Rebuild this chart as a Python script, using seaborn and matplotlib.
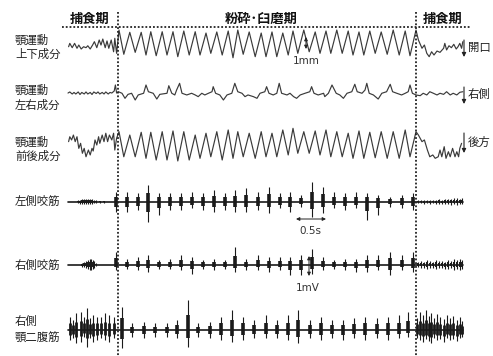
import numpy as np
import matplotlib
matplotlib.use("Agg")
import matplotlib.pyplot as plt
import seaborn as sns

# ── DATA ──────────────────────────────────────────────────────────────────────
# time in s, jaw movement in mm, EMG in mV (all read off the recording)
trace_span = [0.0, 6.58]

# chewing cycles (粉砕・臼磨期): cycle peak / trough times shared by the jaw traces
cycle_peak_t = [0.85, 1.03, 1.22, 1.38, 1.57, 1.75, 1.93, 2.12, 2.30, 2.48, 2.67, 2.83, 3.02, 3.22,
                3.40, 3.58, 3.75, 3.93, 4.12, 4.30, 4.48, 4.67, 4.85, 5.03, 5.22, 5.42, 5.62, 5.80]
cycle_trough_t = [0.93, 1.12, 1.30, 1.47, 1.65, 1.83, 2.02, 2.20, 2.38, 2.57, 2.75, 2.92, 3.12, 3.30,
                  3.48, 3.67, 3.83, 4.02, 4.20, 4.38, 4.57, 4.75, 4.93, 5.12, 5.32, 5.52, 5.70]

# 顎運動 上下成分
vert_pre_t = [0.01, 0.03, 0.07, 0.11, 0.15, 0.18, 0.22, 0.26, 0.30, 0.33, 0.37, 0.41,
              0.44, 0.48, 0.52, 0.55, 0.58, 0.62, 0.65, 0.68, 0.72, 0.76, 0.78, 0.81]
vert_pre_v = [-0.31, -0.03, -0.39, -0.03, -0.44, -0.17, -0.50, -0.31, -0.39, -0.23, -0.50, -0.17,
              0.11, -0.39, 0.25, -0.17, 0.33, -0.39, 0.17, -0.44, 0.25, -0.73, 0.39, -0.86]
vert_peak_v = [1.08, 0.89, 0.89, 0.94, 0.94, 0.94, 1.00, 0.94, 0.83, 0.92, 1.00, 1.08, 0.92, 0.83,
               0.92, 0.83, 1.00, 1.08, 0.92, 1.00, 1.08, 1.00, 0.92, 1.00, 0.92, 1.08, 1.00, 1.08]
vert_trough_v = [-0.94, -0.78, -1.00, -1.06, -1.00, -1.14, -1.00, -1.00, -0.86, -1.00, -1.23, -0.94,
                 -1.14, -1.14, -1.14, -1.00, -0.86, -0.73, -0.86, -0.86, -0.86, -1.00, -1.00, -0.86,
                 -0.94, -1.00, -1.06]
vert_post_t = [5.84, 5.90, 5.94, 5.98, 6.02, 6.06, 6.10, 6.15, 6.20, 6.26,
               6.28, 6.31, 6.35, 6.39, 6.43, 6.47, 6.50, 6.53, 6.56, 6.58]
vert_post_v = [0.25, -0.44, -0.17, -0.86, -1.14, -0.73, -1.00, -0.67, -0.78, -0.44,
               -0.03, -0.58, -0.23, -0.39, -0.11, -0.50, -0.31, -0.03, -0.44, 0.11]

# 顎運動 左右成分 (whole record)
lat_t = [0.00, 0.03, 0.07, 0.10, 0.13, 0.17, 0.20, 0.23, 0.27, 0.30, 0.33, 0.37, 0.40, 0.43,
         0.47, 0.50, 0.53, 0.57, 0.60, 0.63, 0.67, 0.70, 0.73, 0.77, 0.79, 0.81,
         0.84, 0.90, 0.95, 1.00, 1.06, 1.12, 1.17, 1.26, 1.30, 1.34, 1.42, 1.48, 1.53, 1.65,
         1.68, 1.73, 1.78, 1.81, 1.86, 1.90, 1.98, 2.06,
         2.12, 2.17, 2.23, 2.28, 2.34, 2.40, 2.42, 2.46, 2.53, 2.59, 2.65, 2.73, 2.78, 2.83,
         2.90, 2.95, 3.00, 3.09, 3.15, 3.20, 3.28, 3.31, 3.35, 3.42, 3.48, 3.52, 3.56, 3.65,
         3.70, 3.76, 3.81, 3.87, 3.95, 4.03, 4.06, 4.10, 4.17, 4.26, 4.28, 4.34, 4.40,
         4.47, 4.53, 4.59, 4.65, 4.73, 4.78, 4.82, 4.90, 4.95, 4.98, 5.02, 5.09, 5.17, 5.23,
         5.31, 5.37, 5.41, 5.48, 5.56, 5.62, 5.67, 5.70, 5.74, 5.80,
         5.87, 5.92, 5.98, 6.03, 6.09, 6.15, 6.20, 6.26, 6.31, 6.37, 6.42, 6.48, 6.53, 6.58]
lat_v = [0.08, 0.17, 0.00, 0.13, 0.00, 0.17, -0.04, 0.13, 0.00, 0.17, 0.00, 0.13, -0.04, 0.17,
         0.04, 0.17, 0.00, 0.13, 0.00, 0.17, 0.00, 0.13, 0.08, 0.25, 0.75, 0.08,
         0.19, 0.06, -0.36, -0.03, 0.06, -0.50, -0.08, 0.06, 0.75, 0.19, 0.06, -0.42, -0.03, 0.06,
         0.69, 0.06, -0.08, 0.33, 0.89, 0.06, -0.08, 0.06,
         -0.08, -0.22, 0.06, -0.08, 0.06, 0.19, 0.61, 0.06, -0.08, -0.50, -0.08, 0.06, 0.89, 0.19,
         0.06, -0.22, -0.08, -0.22, -0.36, 0.06, 0.19, 0.61, 0.06, -0.08, 0.06, 0.89, 0.06, -0.08,
         0.06, -0.22, -0.36, -0.08, 0.06, 0.19, 0.61, 0.06, -0.08, 0.06, -0.22, 0.06, 0.75,
         0.06, -0.08, -0.36, 0.06, 0.19, 0.81, 0.19, 0.06, 0.33, 0.89, 0.06, -0.08, -0.42, 0.06,
         0.19, 0.81, 0.19, 0.06, -0.08, 0.06, 0.19, 0.75, 0.06, -0.08,
         -0.14, 0.06, -0.08, 0.19, 0.06, -0.08, 0.06, -0.03, 0.19, -0.08, 0.06, -0.08, 0.14, 0.19]

# 顎運動 前後成分
ap_pre_t = [0.01, 0.03, 0.06, 0.09, 0.12, 0.15, 0.18, 0.21, 0.24, 0.27, 0.30, 0.34, 0.37, 0.40,
            0.42, 0.45, 0.48, 0.51, 0.53, 0.57, 0.60, 0.63, 0.66, 0.69, 0.73, 0.76, 0.78, 0.81]
ap_pre_v = [0.28, 0.69, 0.42, 0.83, 0.28, 0.69, -0.28, 0.14, -0.69, -0.28, -0.98, -0.42, -0.83, -0.28,
            -0.50, 0.42, 0.00, 0.69, 0.14, 0.83, 0.28, 0.98, 0.28, 0.83, 0.42, 0.98, -0.42, 0.56]
ap_peak_v = [1.11, 0.83, 1.06, 1.06, 1.11, 1.17, 1.11, 0.83, 0.98, 1.11, 1.25, 1.11, 0.98, 1.11,
             0.98, 1.25, 1.39, 1.11, 1.17, 1.25, 1.11, 0.98, 1.17, 1.06, 1.11, 1.11, 1.25, 1.11]
ap_trough_v = [-0.98, -0.98, -1.11, -1.25, -1.25, -1.33, -1.25, -1.11, -0.98, -1.25, -1.11, -0.98,
               -1.11, -0.98, -0.98, -0.83, -0.69, -0.69, -0.83, -0.98, -0.98, -1.11, -1.11, -1.06,
               -1.11, -1.11, -0.98]
ap_post_t = [5.84, 5.90, 5.94, 5.99, 6.03, 6.08, 6.12, 6.17, 6.20, 6.23,
             6.27, 6.30, 6.34, 6.37, 6.41, 6.45, 6.48, 6.51, 6.53, 6.56]
ap_post_v = [0.83, 0.28, 0.42, -0.42, -0.98, -0.83, -1.11, -0.98, -0.42, -0.98,
             -0.14, -1.11, -0.56, -0.98, -0.28, -0.98, -0.56, -0.98, -0.28, 0.14]

# masseter bursts during chewing
masseter_t = [0.80, 0.98, 1.17, 1.33, 1.52, 1.70, 1.88, 2.07, 2.25, 2.43, 2.62, 2.78, 2.97, 3.17,
              3.35, 3.53, 3.70, 3.88, 4.07, 4.25, 4.43, 4.62, 4.80, 4.98, 5.17, 5.37, 5.57, 5.75]
lmas_up = [0.50, 0.50, 0.42, 0.83, 0.42, 0.42, 0.42, 0.50, 0.42, 0.58, 0.42, 0.58, 0.67, 0.50,
           0.75, 0.42, 0.50, 0.33, 1.00, 0.75, 0.50, 0.42, 0.50, 0.42, 0.33, 0.25, 0.33, 0.42]
lmas_dn = [0.50, 0.50, 0.42, 1.00, 0.67, 0.42, 0.42, 0.33, 0.42, 0.50, 0.42, 0.50, 0.50, 0.42,
           0.58, 0.33, 0.50, 0.25, 0.75, 0.58, 0.33, 0.42, 0.33, 0.92, 0.67, 0.25, 0.33, 0.42]
rmas_up = [0.63, 0.30, 0.38, 0.47, 0.22, 0.30, 0.47, 0.38, 0.22, 0.30, 0.22, 0.88, 0.30, 0.47,
           0.38, 0.38, 0.38, 0.47, 0.80, 0.38, 0.22, 0.30, 0.30, 0.47, 0.47, 0.63, 0.47, 0.63]
rmas_dn = [0.28, 0.20, 0.28, 0.37, 0.20, 0.20, 0.28, 0.45, 0.20, 0.28, 0.20, 0.37, 0.28, 0.28,
           0.37, 0.28, 0.53, 0.53, 0.45, 0.28, 0.20, 0.28, 0.37, 0.37, 0.28, 0.53, 0.28, 0.37]

# masseter activity during ingestion (捕食期)
lmas_pre_t = [0.17, 0.20, 0.23, 0.27, 0.30, 0.33, 0.37, 0.40, 0.43, 0.47, 0.53, 0.60]
lmas_pre_up = [0.08, 0.10, 0.12, 0.12, 0.15, 0.12, 0.15, 0.12, 0.10, 0.08, 0.05, 0.05]
lmas_pre_dn = [0.08, 0.10, 0.10, 0.12, 0.12, 0.10, 0.12, 0.10, 0.08, 0.06, 0.05, 0.05]
rmas_pre_t = [0.23, 0.27, 0.30, 0.33, 0.36, 0.38, 0.41, 0.43, 0.47]
rmas_pre_up = [0.10, 0.15, 0.20, 0.25, 0.28, 0.30, 0.25, 0.20, 0.10]
rmas_pre_dn = [0.10, 0.12, 0.18, 0.22, 0.25, 0.25, 0.22, 0.15, 0.08]
feed_post_t = [5.83, 5.88, 5.93, 5.98, 6.03, 6.08, 6.13, 6.18, 6.23, 6.28, 6.33, 6.38,
               6.43, 6.48, 6.53, 6.57]
lmas_post_up = [0.08, 0.10, 0.08, 0.10, 0.08, 0.10, 0.10, 0.12, 0.10, 0.12, 0.15, 0.12,
                0.18, 0.20, 0.15, 0.20]
lmas_post_dn = [0.08, 0.08, 0.10, 0.08, 0.10, 0.08, 0.10, 0.10, 0.12, 0.10, 0.12, 0.15,
                0.12, 0.15, 0.12, 0.10]
rmas_post_up = [0.15, 0.20, 0.12, 0.22, 0.18, 0.15, 0.25, 0.18, 0.20, 0.15, 0.25, 0.20,
                0.28, 0.22, 0.30, 0.25]
rmas_post_dn = [0.12, 0.18, 0.15, 0.20, 0.15, 0.18, 0.20, 0.15, 0.18, 0.20, 0.22, 0.18,
                0.25, 0.20, 0.25, 0.20]

# 右側顎二腹筋
dig_pre_t = [0.03, 0.09, 0.14, 0.21, 0.27, 0.31, 0.37, 0.42, 0.49, 0.55, 0.62, 0.69, 0.76]
dig_pre_up = [0.67, 0.50, 0.83, 0.92, 0.67, 1.08, 0.58, 0.75, 0.67, 0.67, 0.83, 0.75, 0.67]
dig_pre_dn = [0.50, 0.42, 0.67, 0.58, 0.33, 0.83, 0.42, 0.58, 0.50, 0.42, 0.50, 0.58, 0.42]
dig_t = [0.90, 1.06, 1.26, 1.45, 1.65, 1.81, 2.00, 2.17, 2.37, 2.55, 2.73, 2.92, 3.10, 3.30,
         3.48, 3.66, 3.84, 4.03, 4.22, 4.40, 4.59, 4.76, 4.95, 5.15, 5.34, 5.51, 5.67]
dig_up = [1.17, 0.33, 0.42, 0.33, 0.33, 0.50, 1.50, 0.33, 0.42, 0.67, 1.00, 0.67, 0.50, 0.75,
          0.50, 0.75, 1.00, 0.50, 0.67, 0.50, 0.50, 0.58, 0.67, 0.58, 0.67, 0.75, 0.92]
dig_dn = [0.90, 0.33, 0.42, 0.33, 0.33, 0.42, 0.83, 0.33, 0.42, 0.50, 0.58, 0.50, 0.42, 0.42,
          0.42, 0.50, 0.67, 0.42, 0.50, 0.42, 0.50, 0.42, 0.50, 0.42, 0.50, 0.42, 0.33]
dig_post_t = [5.82, 5.87, 5.91, 5.96, 6.01, 6.05, 6.10, 6.15, 6.20, 6.26, 6.31, 6.37,
              6.42, 6.48, 6.53, 6.57]
dig_post_up = [0.60, 0.90, 0.75, 1.00, 0.70, 0.85, 0.60, 0.80, 0.65, 0.55, 0.75, 0.60,
               0.70, 0.50, 0.65, 0.45]
dig_post_dn = [0.40, 0.50, 0.60, 0.45, 0.55, 0.65, 0.40, 0.50, 0.45, 0.60, 0.40, 0.50,
               0.45, 0.55, 0.40, 0.35]

jaw_labels = [("顎運動", "上下成分"), ("顎運動", "左右成分"), ("顎運動", "前後成分")]
emg_labels = ["左側咬筋", "右側咬筋", ("右側", "顎二腹筋")]
dir_labels = ["開口", "右側", "後方"]
phase_labels = ["捕食期", "粉砕･臼磨期", "捕食期"]

# ── LAYOUT (figure pixels) ───────────────────────────────────────────────────
X0, PX_PER_S = 68, 60
JAW_Y = [43, 94, 145]
EMG_Y = [201.5, 264.5, 330]
PX_PER_MM, PX_PER_MV = 12, 20
INK = "#3a3a3a"

sns.set_theme(style="white")
plt.rcParams["font.family"] = ["Noto Sans CJK JP", "DejaVu Sans"]

fig = plt.figure(figsize=(4.93, 3.56), dpi=100)
ax = fig.add_axes([0, 0, 1, 1])
ax.set_xlim(-X0 / PX_PER_S, (493 - X0) / PX_PER_S)
ax.set_ylim(356, 0)
ax.axis("off")
ann = fig.add_axes([0, 0, 1, 1], facecolor="none")
ann.set_xlim(0, 493)
ann.set_ylim(356, 0)
ann.axis("off")


def chew_wave(peak_v, trough_v):
    t, v = [], []
    for i, pv in enumerate(peak_v):
        t.append(cycle_peak_t[i]); v.append(pv)
        if i < len(trough_v):
            t.append(cycle_trough_t[i]); v.append(trough_v[i])
    return t, v


def jaw_trace(t, v, y0):
    y = y0 - np.asarray(v) * PX_PER_MM
    sns.lineplot(x=np.asarray(t), y=y, sort=False, estimator=None, ax=ax,
                 color=INK, lw=0.85)


def emg_spikes(t, up, dn, y0, core_lw=2.6):
    t, up, dn = map(np.asarray, (t, up, dn))
    ax.vlines(t, y0 - up * PX_PER_MV, y0 + dn * PX_PER_MV, color="k", lw=0.8)
    ax.vlines(t, y0 - up * PX_PER_MV * 0.5, y0 + dn * PX_PER_MV * 0.5, color="k", lw=core_lw)


# ── jaw movement traces ──────────────────────────────────────────────────────
ct, cv = chew_wave(vert_peak_v, vert_trough_v)
jaw_trace(vert_pre_t + ct + vert_post_t, vert_pre_v + cv + vert_post_v, JAW_Y[0])
jaw_trace(lat_t, lat_v, JAW_Y[1])
ct, cv = chew_wave(ap_peak_v, ap_trough_v)
jaw_trace(ap_pre_t + ct + ap_post_t, ap_pre_v + cv + ap_post_v, JAW_Y[2])

# ── EMG traces ───────────────────────────────────────────────────────────────
for y0 in EMG_Y:
    ax.plot(trace_span, [y0, y0], color="k", lw=1.2)
emg_spikes(masseter_t, lmas_up, lmas_dn, EMG_Y[0])
emg_spikes(lmas_pre_t, lmas_pre_up, lmas_pre_dn, EMG_Y[0], 1.4)
emg_spikes(feed_post_t, lmas_post_up, lmas_post_dn, EMG_Y[0], 1.4)
emg_spikes(masseter_t, rmas_up, rmas_dn, EMG_Y[1])
emg_spikes(rmas_pre_t, rmas_pre_up, rmas_pre_dn, EMG_Y[1], 1.4)
emg_spikes(feed_post_t, rmas_post_up, rmas_post_dn, EMG_Y[1], 1.4)
emg_spikes(dig_pre_t, dig_pre_up, dig_pre_dn, EMG_Y[2], 2.0)
emg_spikes(dig_t, dig_up, dig_dn, EMG_Y[2])
emg_spikes(dig_post_t, dig_post_up, dig_post_dn, EMG_Y[2], 2.0)

# ── phase separators and headers ─────────────────────────────────────────────
dot = dict(color="#222", lw=1.3, linestyle=(0, (1, 1.1)))
ann.plot([62, 470], [27, 27], **dot)
ann.plot([118, 118], [12, 356], **dot)
ann.plot([416, 416], [12, 356], **dot)
for x, s in zip([90, 261, 443], phase_labels):
    ann.text(x, 19, s, ha="center", va="center", fontsize=9.5, fontweight="bold", color="#111")

# ── row labels ───────────────────────────────────────────────────────────────
lab = dict(ha="left", va="center", fontsize=8.2, color="#222")
for (a, b), y in zip(jaw_labels, [(40, 54), (90, 105), (142, 156)]):
    ann.text(15, y[0], a, **lab)
    ann.text(15, y[1], b, **lab)
ann.text(15, 201, emg_labels[0], **lab)
ann.text(15, 265, emg_labels[1], **lab)
ann.text(15, 321, emg_labels[2][0], **lab)
ann.text(15, 338, emg_labels[2][1], **lab)

# direction arrows on the right
for s, (y_a, y_b) in zip(dir_labels, [(40, 57), (87, 104), (133, 153)]):
    ann.annotate("", xy=(464, y_b), xytext=(464, y_a),
                 arrowprops=dict(arrowstyle="-|>", lw=0.8, color="#222", mutation_scale=6,
                                 shrinkA=0, shrinkB=0))
    ann.text(468, (y_a + y_b) / 2 - 1, s, **lab)

# ── scale bars ───────────────────────────────────────────────────────────────
bar = dict(arrowstyle="<|-|>", lw=0.7, color="#222", mutation_scale=5, shrinkA=0, shrinkB=0)
t_mm = (306 - X0) / PX_PER_S
ax.annotate("", xy=(t_mm, JAW_Y[0] - 0.5 * PX_PER_MM), xytext=(t_mm, JAW_Y[0] + 0.5 * PX_PER_MM),
            arrowprops=bar)
ax.annotate("", xy=((296 - X0) / PX_PER_S, 219), xytext=((296 - X0) / PX_PER_S + 0.5, 219),
            arrowprops=bar)
t_mv = (309 - X0) / PX_PER_S
ax.annotate("", xy=(t_mv, EMG_Y[1] + 1.5 - 0.5 * PX_PER_MV),
            xytext=(t_mv, EMG_Y[1] + 1.5 + 0.5 * PX_PER_MV), arrowprops=bar)
sc = dict(ha="center", va="center", fontsize=7.5, color="#333", family="DejaVu Sans")
ann.text(306, 61, "1mm", **sc)
ann.text(310, 231, "0.5s", **sc)
ann.text(308, 288, "1mV", **sc)

fig.savefig("out.png", dpi=100, facecolor="white")
